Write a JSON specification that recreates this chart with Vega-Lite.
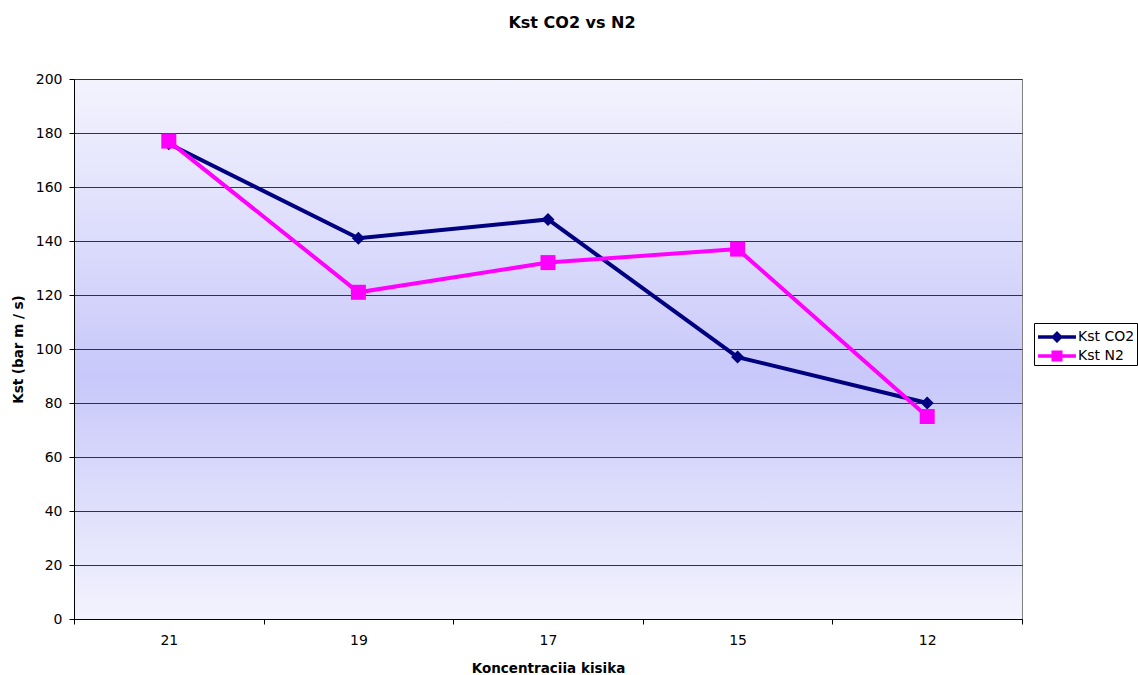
{
  "$schema": "https://vega.github.io/schema/vega-lite/v6.json",
  "width": 948,
  "height": 540,
  "autosize": {"type": "none"},
  "padding": {"left": 74, "top": 79, "right": 116, "bottom": 56},
  "background": "white",
  "config": {
    "font": "DejaVu Sans",
    "view": {
      "stroke": "#808080",
      "strokeWidth": 1,
      "fill": {
        "gradient": "linear",
        "x1": 0, "y1": 0, "x2": 0, "y2": 1,
        "stops": [
          {"offset": 0, "color": "#f3f3fe"},
          {"offset": 0.55, "color": "#c8c8fa"},
          {"offset": 1, "color": "#f3f3fe"}
        ]
      }
    },
    "axis": {
      "labelFont": "DejaVu Sans",
      "labelFontSize": 14,
      "labelColor": "black",
      "titleFont": "DejaVu Sans",
      "titleFontSize": 13.5,
      "titleFontWeight": "bold",
      "titleColor": "black",
      "domainColor": "black",
      "tickColor": "black",
      "tickSize": 5
    }
  },
  "title": {
    "text": "Kst CO2 vs N2",
    "font": "DejaVu Sans",
    "fontSize": 16,
    "fontWeight": "bold",
    "color": "black",
    "anchor": "middle",
    "dx": 24,
    "offset": 41
  },
  "datasets": {
    "kst": [
      {"conc": "21", "series": "Kst CO2", "kst": 176},
      {"conc": "19", "series": "Kst CO2", "kst": 141},
      {"conc": "17", "series": "Kst CO2", "kst": 148},
      {"conc": "15", "series": "Kst CO2", "kst": 97},
      {"conc": "12", "series": "Kst CO2", "kst": 80},
      {"conc": "21", "series": "Kst N2", "kst": 177},
      {"conc": "19", "series": "Kst N2", "kst": 121},
      {"conc": "17", "series": "Kst N2", "kst": 132},
      {"conc": "15", "series": "Kst N2", "kst": 137},
      {"conc": "12", "series": "Kst N2", "kst": 75}
    ]
  },
  "layer": [
    {
      "data": {"name": "kst"},
      "transform": [{"filter": "datum.series === 'Kst CO2'"}],
      "mark": {"type": "line", "strokeWidth": 4, "color": "#000080"},
      "encoding": {
        "x": {
          "field": "conc", "type": "ordinal",
          "sort": ["21", "19", "17", "15", "12"],
          "scale": {"type": "band", "paddingInner": 0, "paddingOuter": 0},
          "bandPosition": 0.5,
          "title": "Koncentraciia kisika",
          "axis": {"labelAngle": 0, "tickBand": "extent", "grid": false, "labelPadding": 9, "titlePadding": 14}
        },
        "y": {
          "field": "kst", "type": "quantitative",
          "scale": {"domain": [0, 200], "nice": false},
          "title": "Kst (bar m / s)",
          "axis": {"values": [0, 20, 40, 60, 80, 100, 120, 140, 160, 180, 200], "grid": true, "gridColor": "#333333", "gridOpacity": 1, "labelPadding": 7, "titlePadding": 10}
        }
      }
    },
    {
      "data": {"name": "kst"},
      "transform": [{"filter": "datum.series === 'Kst N2'"}],
      "mark": {"type": "line", "strokeWidth": 4, "color": "#ff00ff"},
      "encoding": {
        "x": {"field": "conc", "type": "ordinal", "sort": ["21", "19", "17", "15", "12"], "bandPosition": 0.5},
        "y": {"field": "kst", "type": "quantitative"}
      }
    },
    {
      "data": {"name": "kst"},
      "transform": [{"filter": "datum.series === 'Kst CO2'"}],
      "mark": {"type": "point", "shape": "diamond", "filled": true, "size": 170, "opacity": 1, "color": "#000080"},
      "encoding": {
        "x": {"field": "conc", "type": "ordinal", "sort": ["21", "19", "17", "15", "12"], "bandPosition": 0.5},
        "y": {"field": "kst", "type": "quantitative"}
      }
    },
    {
      "data": {"name": "kst"},
      "transform": [{"filter": "datum.series === 'Kst N2'"}],
      "mark": {"type": "point", "shape": "square", "filled": true, "size": 225, "opacity": 1, "color": "#ff00ff"},
      "encoding": {
        "x": {"field": "conc", "type": "ordinal", "sort": ["21", "19", "17", "15", "12"], "bandPosition": 0.5},
        "y": {"field": "kst", "type": "quantitative"}
      }
    },
    {
      "data": {"name": "kst"},
      "transform": [{"filter": "false"}],
      "mark": {"type": "point", "filled": true, "opacity": 1},
      "encoding": {
        "x": {"field": "conc", "type": "ordinal", "sort": ["21", "19", "17", "15", "12"], "bandPosition": 0.5},
        "y": {"field": "kst", "type": "quantitative"},
        "color": {
          "field": "series", "type": "nominal",
          "scale": {"domain": ["Kst CO2", "Kst N2"], "range": ["#000080", "#ff00ff"]},
          "legend": {
            "title": null,
            "orient": "none",
            "legendX": 960,
            "legendY": 244,
            "padding": 2,
            "strokeColor": "black",
            "fillColor": "white",
            "symbolSize": 576,
            "symbolOpacity": 1,
            "symbolStrokeWidth": 0,
            "symbolOffset": 9,
            "labelOffset": 9,
            "rowPadding": 0,
            "labelFont": "DejaVu Sans",
            "labelFontSize": 14,
            "labelColor": "black"
          }
        },
        "shape": {
          "field": "series", "type": "nominal",
          "scale": {
            "domain": ["Kst CO2", "Kst N2"],
            "range": [
              "M-1.58,-0.14H1.58V0.14H-1.58Z M0,-0.5L0.5,0L0,0.5L-0.5,0Z",
              "M-1.58,-0.14H1.58V0.14H-1.58Z M-0.46,-0.46H0.46V0.46H-0.46Z"
            ]
          }
        }
      }
    }
  ]
}
